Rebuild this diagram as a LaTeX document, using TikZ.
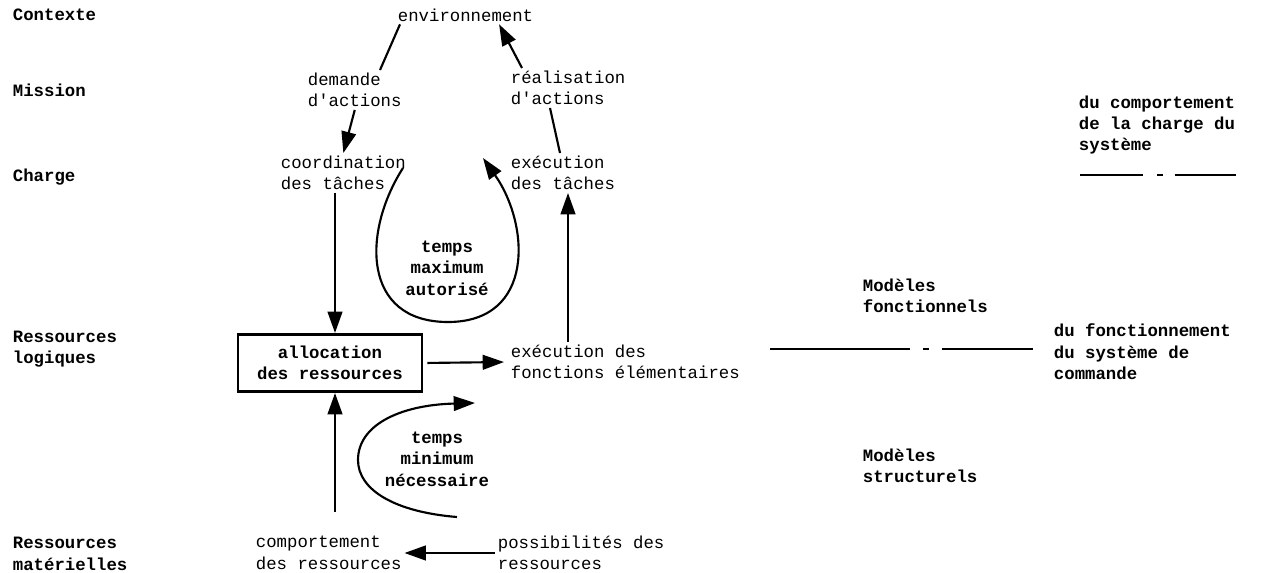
\documentclass[tikz,border=0pt]{standalone}
\usepackage{fontspec}
\setmainfont{Liberation Mono}[Ligatures=TeXOff]
\usetikzlibrary{arrows.meta, calc, positioning}
\tikzset{
  % Graph arrow style
  garr/.style={
    line width = 1.6pt
    , -{Triangle[length=16pt, width=11pt]}
  },
}
\tikzset{
  % Graph line style (no tip)
  gline/.style={
    line width = 1.6pt
  },
}
\tikzset{
  % level names (left column) and model texts
  lvl/.style={
    anchor=west
    , align=left
    , inner sep=2pt
    , font=\fontsize{13}{16}\selectfont\bfseries
  },
}
\tikzset{
  % plain text of the graph
  txt/.style={
    anchor=west
    , align=left
    , inner sep=2pt
  },
}
\tikzset{
  % time labels inside the loops
  tlbl/.style={
    align=center
    , inner sep=2pt
    , font=\fontsize{13}{16}\selectfont\bfseries
  },
}
\tikzset{
  % the one boxed node
  allocbox/.style={
    draw
    , line width=2pt
    , align=center
    , minimum width=138pt
    , minimum height=43pt
    , font=\fontsize{13}{16}\selectfont\bfseries
  },
}
\tikzset{
  % separation between the models
  sepmid/.style={
    line width=1pt
    , dash pattern=on 105pt off 10pt on 4pt off 10pt on 200pt
  },
  septop/.style={
    line width=2pt
    , dash pattern=on 47pt off 11pt on 4pt off 9pt on 100pt
  },
}

\begin{document}
\begin{tikzpicture}[x=0.75pt, y=-0.75pt, font=\fontsize{13}{16}\selectfont]
  \useasboundingbox (0,0) rectangle (1273,573);
  % levels
  \node[lvl] (ctx) at (10,15) {Contexte};
  \node[lvl] (mis) at (10,90) {Mission};
  \node[lvl] (chg) at (10,177) {Charge};
  \node[lvl] (rlog) at (10,349) {Ressources\\logiques};
  \node[lvl] (rmat) at (10,554) {Ressources\\matérielles};
  % graph
  \node[txt] (env) at (395,15) {environnement};
  \node[txt] (dem) at (305,90) {demande\\d'actions};
  \node[txt] (real) at (508,88) {réalisation\\d'actions};
  \node[txt] (coord) at (278,173) {coordination\\des tâches};
  \node[txt] (exec) at (508,173) {exécution\\des tâches};
  \node[tlbl] (tmax) at (447,268) {temps\\maximum\\autorisé};
  \node[allocbox] (alloc) at (330,363) {allocation\\des ressources};
  \node[txt] (fonc) at (508,362) {exécution des\\fonctions élémentaires};
  \node[tlbl] (tmin) at (437,459) {temps\\minimum\\nécessaire};
  \node[txt] (comp) at (253,553) {comportement\\des ressources};
  \node[txt] (poss) at (495,553) {possibilités des\\ressources};
  % models
  \node[lvl] (modf) at (860,296) {Modèles\\fonctionnels};
  \node[lvl] (mods) at (860,466) {Modèles\\structurels};
  \node[lvl] (dcomp) at (1076,125) {du comportement\\de la charge du\\système};
  \node[lvl] (dfonc) at (1051,352) {du fonctionnement\\du système de\\commande};
  % free ends
  \coordinate (arrl) at (335,0);
  \coordinate (arrr) at (568,0);
  \coordinate (lmaxa) at (403,168);
  \coordinate (lmaxb) at (483,158);
  \coordinate (lmina) at (457,517);
  \coordinate (lminb) at (475,403);
  \coordinate (sma) at (770,349);
  \coordinate (smb) at (1033,349);
  \coordinate (sta) at (1080,175);
  \coordinate (stb) at (1236,175);
  % connectors
  \draw[gline]
    ($(dem.north west)+(75,0)$)
    --
    ($(env.south west)+(5,0)$);
  \draw[garr] (dem.south) -- (coord.north);
  \draw[garr]
    ($(real.north west)+(14,0)$)
    --
    ($(env.south east)+(-37,0)$);
  \draw[gline]
    ($(real.south west)+(42,0)$)
    --
    ($(exec.north west)+(52,0)$);
  \draw[garr] (coord.south -| arrl) -- (alloc.north -| arrl);
  \draw[garr] (fonc.north -| arrr) -- (exec.south -| arrr);
  \draw[garr, shorten <=16pt] (comp.north -| arrl) -- (alloc.south -| arrl);
  \draw[garr, shorten <=3pt, shorten >=3pt] (alloc.east) -- (fonc.west);
  \draw[garr] (poss.west) -- (comp.east);
  % loops
  \draw[garr]
    (lmaxa) .. controls (362,232) and (362,322) .. (448,322)
    .. controls (535,322) and (530,225) .. (lmaxb);
  \draw[garr]
    (lmina) .. controls (395,512) and (358,490) .. (358,460)
    .. controls (358,425) and (400,405) .. (lminb);
  % separators
  \draw[sepmid] (sma) -- (smb);
  \draw[septop] (sta) -- (stb);
\end{tikzpicture}
\end{document}
